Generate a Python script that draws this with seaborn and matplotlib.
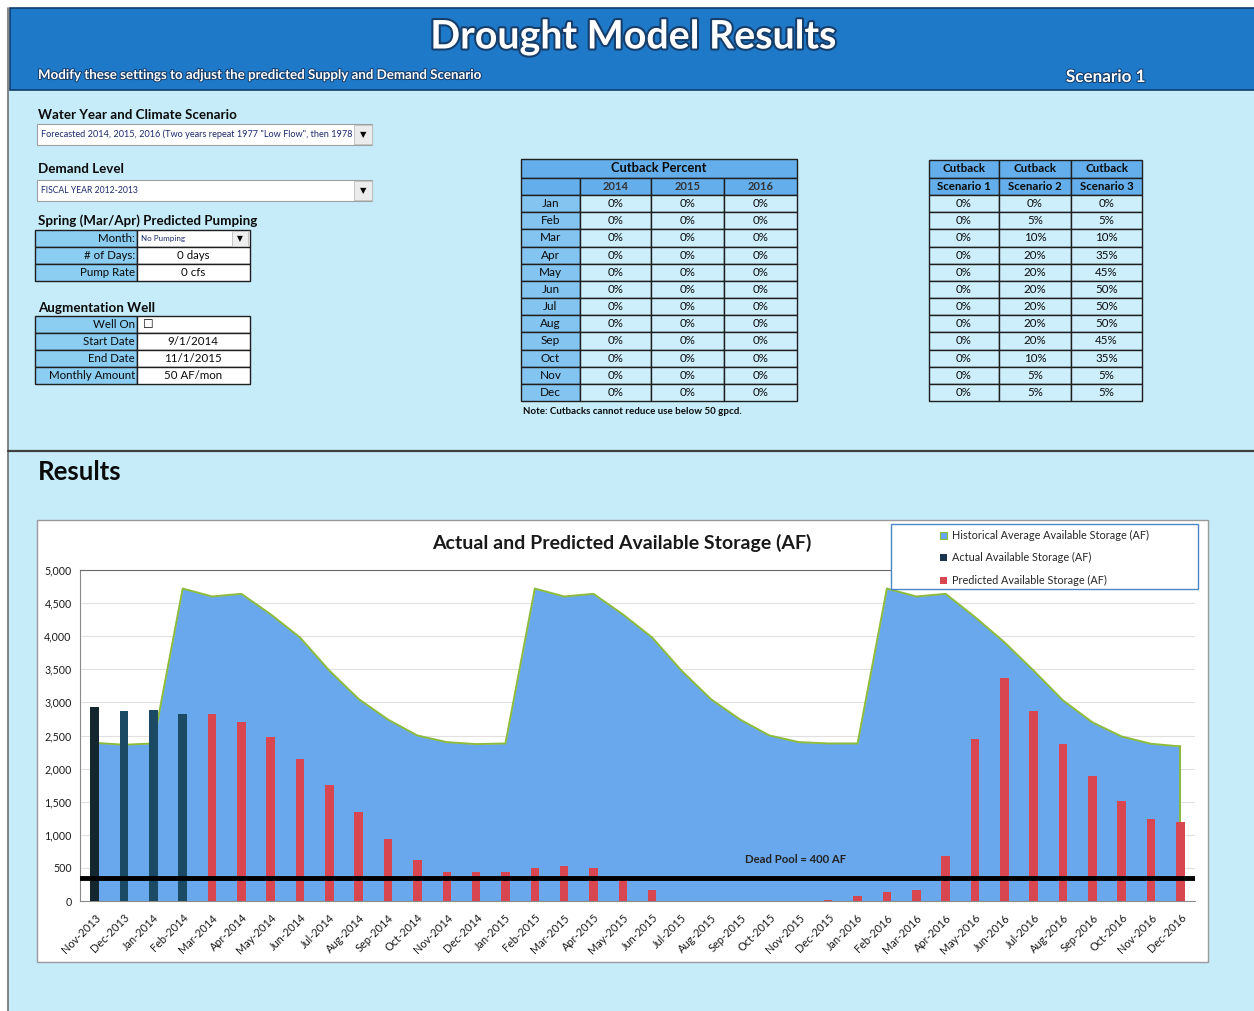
# %% Import packages

import numpy as np
import pandas as pd
import matplotlib
matplotlib.use('Agg')
import matplotlib.pyplot as plt
import seaborn as sns
import matplotlib.patheffects as pe
from matplotlib.patches import Rectangle, Patch
from matplotlib.ticker import FuncFormatter

# %% Set-up

sns.set_style('white')
plt.rcParams['font.family'] = ['Lato', 'DejaVu Sans']

# %% Data

#Chart categories (one per month)
months = ['Nov-2013', 'Dec-2013',
          'Jan-2014', 'Feb-2014', 'Mar-2014', 'Apr-2014', 'May-2014', 'Jun-2014',
          'Jul-2014', 'Aug-2014', 'Sep-2014', 'Oct-2014', 'Nov-2014', 'Dec-2014',
          'Jan-2015', 'Feb-2015', 'Mar-2015', 'Apr-2015', 'May-2015', 'Jun-2015',
          'Jul-2015', 'Aug-2015', 'Sep-2015', 'Oct-2015', 'Nov-2015', 'Dec-2015',
          'Jan-2016', 'Feb-2016', 'Mar-2016', 'Apr-2016', 'May-2016', 'Jun-2016',
          'Jul-2016', 'Aug-2016', 'Sep-2016', 'Oct-2016', 'Nov-2016', 'Dec-2016']

#Historical average available storage (area)
historical = [2390, 2360,
              2380, 4720, 4600, 4640, 4330, 3980, 3480, 3050, 2740, 2500, 2400, 2370,
              2380, 4720, 4600, 4640, 4330, 3980, 3480, 3050, 2740, 2500, 2400, 2380,
              2380, 4720, 4600, 4640, 4290, 3910, 3480, 3030, 2700, 2485, 2375, 2335]

#Actual available storage (Nov-2013 to Feb-2014)
actual_months = ['Nov-2013', 'Dec-2013', 'Jan-2014', 'Feb-2014']
actual = [2930, 2870, 2890, 2820]

#Predicted available storage (Mar-2014 to Dec-2016)
predicted_months = months[4:]
predicted = [2820, 2700, 2475, 2150, 1755, 1345, 940, 615, 440, 440,
             440, 505, 530, 500, 330, 170, 0, 0, 0, 0, 0, 15,
             70, 130, 160, 675, 2450, 3365, 2875, 2370, 1885, 1510, 1240, 1190]

#Dead pool level as drawn
dead_pool = 350

#Cutback tables
month_names = ['Jan', 'Feb', 'Mar', 'Apr', 'May', 'Jun',
               'Jul', 'Aug', 'Sep', 'Oct', 'Nov', 'Dec']
cut_years = ['2014', '2015', '2016']
cut_2014 = [0, 0, 0, 0, 0, 0, 0, 0, 0, 0, 0, 0]
cut_2015 = [0, 0, 0, 0, 0, 0, 0, 0, 0, 0, 0, 0]
cut_2016 = [0, 0, 0, 0, 0, 0, 0, 0, 0, 0, 0, 0]
scen_1 = [0, 0, 0, 0, 0, 0, 0, 0, 0, 0, 0, 0]
scen_2 = [0, 5, 10, 20, 20, 20, 20, 20, 20, 10, 5, 5]
scen_3 = [0, 5, 10, 35, 45, 50, 50, 50, 45, 35, 5, 5]

#Form rows
pump_labels = ['Month:', '# of Days:', 'Pump Rate']
pump_values = ['No Pumping', '0 days', '0 cfs']
well_labels = ['Well On', 'Start Date', 'End Date', 'Monthly Amount']
well_values = ['\u2610', '9/1/2014', '11/1/2015', '50 AF/mon']

# %% Figure and background panel

W, H = 1254, 1011
fig = plt.figure(figsize=(W / 100, H / 100), dpi=100, facecolor='white')

#Background axes in pixel coordinates
bg = fig.add_axes([0, 0, 1, 1], zorder=-1)
bg.set_xlim(0, W)
bg.set_ylim(H, 0)
bg.axis('off')

def box(x0, y0, x1, y1, fc, ec='#1e1e1e', lw=1.0, z=1):
    bg.add_patch(Rectangle((x0, y0), x1 - x0, y1 - y0, fc=fc, ec=ec, lw=lw, zorder=z))

def label(x, y, s, size=8, ha='left', weight='normal', color='#0a0a0a', z=3):
    return bg.text(x, y, s, fontsize=size, ha=ha, va='center',
                   fontweight=weight, color=color, zorder=z)

#Page background
box(8, 90, W, H, '#c6ecf9', ec='none', lw=0, z=0)
bg.plot([8, 8], [8, H], color='#6f6f6f', lw=1.2, zorder=1)
bg.plot([8, W], [451, 451], color='#3f3f3f', lw=1.6, zorder=1)

#Header band
box(10, 8, W + 2, 90, '#1f79c9', ec='#0f3d6a', lw=1.2)
t = label(633, 37, 'Drought Model Results', 28.3, 'center', 'bold', 'white')
t.set_path_effects([pe.withStroke(linewidth=3, foreground='#163e6b')])
t = label(38, 75, 'Modify these settings to adjust the predicted Supply and Demand Scenario',
          9.6, 'left', 'bold', 'white')
t.set_path_effects([pe.withStroke(linewidth=1.5, foreground='#163e6b')])
t = label(1106, 77, 'Scenario 1', 12.3, 'center', 'bold', 'white')
t.set_path_effects([pe.withStroke(linewidth=1.5, foreground='#163e6b')])

# %% Settings form (left)

label(38, 115, 'Water Year and Climate Scenario', 9.6, weight='bold')
box(37, 124, 372, 145, 'white', ec='#a0a0a0', lw=0.8)
label(41, 134.5, 'Forecasted 2014, 2015, 2016 (Two years repeat 1977 "Low Flow", then 1978',
      6.6, color='#1c2a6b')
box(354, 125, 372, 144, '#ececec', ec='#bdbdbd', lw=0.6, z=4)
label(363, 134.5, '\u25bc', 6, 'center', z=5)

label(38, 169, 'Demand Level', 9.6, weight='bold')
box(37, 180, 372, 201, 'white', ec='#a0a0a0', lw=0.8)
label(41, 190.5, 'FISCAL YEAR 2012-2013', 6.2, color='#1c2a6b')
box(354, 181, 372, 200, '#ececec', ec='#bdbdbd', lw=0.6, z=4)
label(363, 190.5, '\u25bc', 6, 'center', z=5)

label(38, 221, 'Spring (Mar/Apr) Predicted Pumping', 9.6, weight='bold')
for i, (lab, val) in enumerate(zip(pump_labels, pump_values)):
    y0 = 230 + i * 17
    box(35, y0, 137, y0 + 17, '#8ccdf2')
    box(137, y0, 250, y0 + 17, 'white')
    label(135, y0 + 8.5, lab, 8.3, 'right')
    if i == 0:
        label(141, y0 + 8.5, val, 5.8, color='#1c2a6b')
    else:
        label(193, y0 + 8.5, val, 8.3, 'center')
box(232, 231, 248, 246, '#eeeeee', ec='#bdbdbd', lw=0.6, z=4)
label(240, 238.5, '\u25bc', 5.5, 'center', z=5)

label(38, 308, 'Augmentation Well', 9.6, weight='bold')
for i, (lab, val) in enumerate(zip(well_labels, well_values)):
    y0 = 316 + i * 17
    box(35, y0, 137, y0 + 17, '#8ccdf2')
    box(137, y0, 250, y0 + 17, 'white')
    label(135, y0 + 8.5, lab, 8.3, 'right')
    if i == 0:
        label(143, y0 + 8.5, val, 8.5)
    else:
        label(193, y0 + 8.5, val, 8.3, 'center')

# %% Cutback Percent table (middle)

hdr_c, side_c, cell_c = '#64afeb', '#84c4f0', '#cdeefb'
cb_x = [521, 580, 651, 724, 797]
row_h = (401 - 195) / 12
box(521, 159, 797, 178, hdr_c)
label(659, 168.5, 'Cutback Percent', 9.3, 'center', 'bold')
for j in range(4):
    box(cb_x[j], 178, cb_x[j + 1], 195, hdr_c)
    if j > 0:
        label((cb_x[j] + cb_x[j + 1]) / 2, 186.5, cut_years[j - 1], 8, 'center', 'bold', '#333333')
for i, m in enumerate(month_names):
    y0 = 195 + i * row_h
    box(521, y0, 580, y0 + row_h, side_c)
    label(550.5, y0 + row_h / 2, m, 8.5, 'center')
    for j, vals in enumerate([cut_2014, cut_2015, cut_2016]):
        box(cb_x[j + 1], y0, cb_x[j + 2], y0 + row_h, cell_c)
        label((cb_x[j + 1] + cb_x[j + 2]) / 2, y0 + row_h / 2, f'{vals[i]}%', 8.3, 'center')
label(523, 411, 'Note: Cutbacks cannot reduce use below 50 gpcd.', 7, weight='bold')

# %% Scenario table (right)

sc_x = [929, 999, 1071, 1142]
for j, vals in enumerate([scen_1, scen_2, scen_3]):
    xc = (sc_x[j] + sc_x[j + 1]) / 2
    box(sc_x[j], 160, sc_x[j + 1], 178, hdr_c)
    box(sc_x[j], 178, sc_x[j + 1], 195, hdr_c)
    label(xc, 169, 'Cutback', 8.3, 'center', 'bold')
    label(xc, 186.5, f'Scenario {j + 1}', 8.3, 'center', 'bold')
    for i in range(12):
        y0 = 195 + i * row_h
        box(sc_x[j], y0, sc_x[j + 1], y0 + row_h, cell_c)
        label(xc, y0 + row_h / 2, f'{vals[i]}%', 8.3, 'center')

# %% Results chart

label(38, 472, 'Results', 18.5, weight='bold')
box(37, 520, 1208, 962, 'white', ec='#9a9a9a', lw=1.0)
label(622, 543, 'Actual and Predicted Available Storage (AF)', 14, 'center', 'bold', '#1a1a1a')

ax = fig.add_axes([80 / W, 1 - 901 / H, (1195 - 80) / W, (901 - 570) / H])
ax.set_facecolor('white')

#Bars for actual and predicted storage
bar_df = pd.DataFrame({'month': actual_months + predicted_months,
                       'series': ['Actual'] * len(actual) + ['Predicted'] * len(predicted),
                       'value': actual + predicted})
sns.barplot(data=bar_df, x='month', y='value', hue='series', order=months,
            dodge=False, width=0.29, errorbar=None, legend=False, saturation=1,
            palette={'Actual': '#1b4a64', 'Predicted': '#d8464f'},
            edgecolor='none', linewidth=0, zorder=3, ax=ax)
ax.patches[0].set_facecolor('#14262e')

#Historical average area with green edge
xi = np.arange(len(months))
ax.fill_between(xi, historical, color='#6aa8ee', lw=0, zorder=1)
ax.plot(xi, historical, color='#8dbb3c', lw=1.4, zorder=1.5)
ax.plot([xi[-1], xi[-1]], [0, historical[-1]], color='#8dbb3c', lw=1.4, zorder=1.5)

#Dead pool line
ax.axhline(dead_pool, color='black', lw=3.5, zorder=4)
ax.text(23.9, 620, 'Dead Pool = 400 AF', fontsize=8.2, fontweight='bold',
        color='#222222', ha='center', va='center', zorder=5)

#Axes formatting
ax.set_xlim(-0.5, len(months) - 0.5)
ax.set_ylim(0, 5000)
ax.set_yticks(np.arange(0, 5001, 500))
ax.yaxis.set_major_formatter(FuncFormatter(lambda v, p: f'{int(v):,}'))
ax.grid(axis='y', color='#e0e0e0', lw=0.8)
ax.set_axisbelow(True)
ax.set_xlabel('')
ax.set_ylabel('')
ax.set_xticks(xi)
ax.set_xticklabels(months, rotation=45, ha='right', rotation_mode='anchor', fontsize=7.9)
ax.set_xticks(np.arange(-0.5, len(months), 1), minor=True)
ax.tick_params(axis='x', which='major', length=0, pad=8)
ax.tick_params(axis='x', which='minor', length=4, color='#888888', direction='out')
ax.tick_params(axis='y', length=4, color='#888888', direction='in', labelsize=7.7, pad=6)
for lab in ax.get_xticklabels() + ax.get_yticklabels():
    lab.set_color('#1a1a1a')
ax.spines['right'].set_visible(False)
ax.spines['top'].set_color('#6a6a6a')
ax.spines['top'].set_linewidth(0.8)
ax.spines['left'].set_color('#8a8a8a')
ax.spines['bottom'].set_color('#8a8a8a')

#Legend box and entries above the chart axes
fig.patches.append(Rectangle((891 / W, 1 - 589 / H), 307 / W, 65 / H,
                             transform=fig.transFigure, fc='white', ec='#4a86c8',
                             lw=1.0, zorder=4))
handles = [Patch(fc='#6aa8ee', ec='#8dbb3c', lw=0.8),
           Patch(fc='#1b3550', ec='none'),
           Patch(fc='#d8464f', ec='none')]
names = ['Historical Average Available Storage (AF)',
         'Actual Available Storage (AF)',
         'Predicted Available Storage (AF)']
leg = fig.legend(handles, names, loc='upper left', bbox_to_anchor=(940 / W, 1 - 530 / H),
                 frameon=False, fontsize=7.8, handlelength=0.6, handleheight=0.6,
                 handletextpad=0.5, labelspacing=1.05, borderaxespad=0, borderpad=0)
leg.set_zorder(5)

#Save figure
fig.savefig('out.png', dpi=100, facecolor=fig.get_facecolor())
